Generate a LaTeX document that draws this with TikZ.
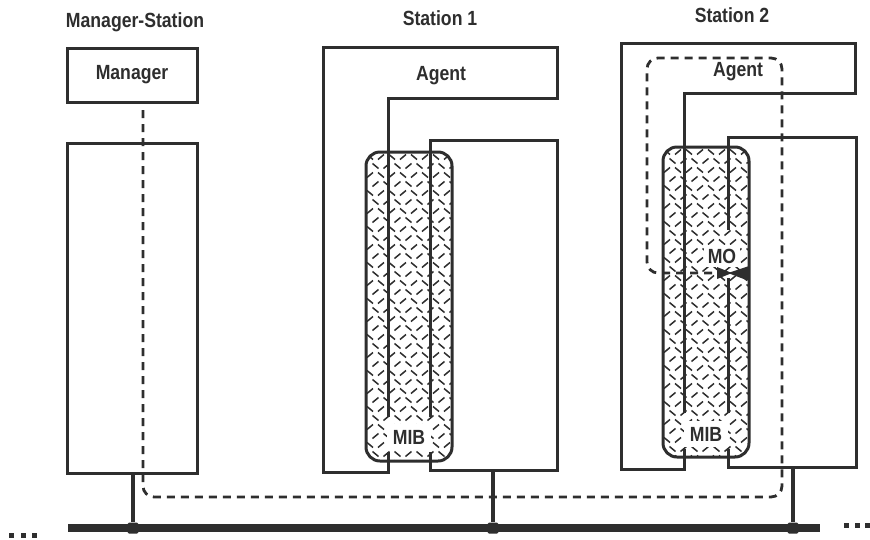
\documentclass[tikz,border=0pt]{standalone}
\usepackage{fontspec}
\setmainfont[FakeStretch=0.86]{Liberation Sans}
\definecolor{ink}{HTML}{2E2E2E}
\newcommand\drawmib[5]{%
  % #1 x1, #2 y1, #3 x2, #4 y2, #5 name
  \fill[white,rounded corners=14pt] (#1,#2) rectangle (#3,#4);
  \begin{scope}
    \clip[rounded corners=14pt] (#1,#2) rectangle (#3,#4);
    \foreach \j in {0,...,34}{%
      \foreach \i in {0,...,8}{%
        \pgfmathsetmacro\hx{#1+4+\i*11+mod(\j,2)*5.5}%
        \pgfmathsetmacro\hy{#2+5+\j*9}%
        \pgfmathtruncatemacro\hpar{mod(floor(\j/2)+\i,2)}%
        \ifnum\hpar=0
          \draw[hatch] (\hx-3,\hy-2.5) -- (\hx+3,\hy+2.5);
        \else
          \draw[hatch] (\hx-3,\hy+2.5) -- (\hx+3,\hy-2.5);
        \fi
      }}
  \end{scope}
  \draw[box,rounded corners=14pt] (#1,#2) rectangle (#3,#4);
  \coordinate (#5) at (#1,#2);
}
\tikzset{
  box/.style={draw=ink,line width=3pt},
  hatch/.style={draw=ink,line width=1.5pt},
  lbl/.style={text=ink,font=\fontsize{20.5}{23}\selectfont\bfseries,inner sep=1pt},
  whitelbl/.style={lbl,fill=white,inner sep=6pt},
  agentpath/.style={draw=ink,line width=2.8pt,dash pattern=on 8pt off 6pt,rounded corners=11pt},
  bus/.style={draw=ink,line width=8pt},
  drop/.style={draw=ink,line width=3.5pt},
  junc/.style={fill=ink,minimum size=11pt,inner sep=0pt,draw=none,rounded corners=1.5pt,rectangle},
  dotn/.style={fill=ink,rectangle,minimum size=5pt,inner sep=0pt}
}
\begin{document}
\begin{tikzpicture}[x=1pt,y=-1pt]
\useasboundingbox (0,0) rectangle (870,539);
\fill[white] (0,0) rectangle (870,539);

% ---------------- Manager station
\node[lbl] (mstlabel) at (135,22) {Manager-Station};
\node[box,minimum width=130pt,minimum height=54pt,inner sep=0pt] (manager) at (132,75) {};
\node[lbl] (managertxt) at (manager.center) {Manager};
\node[box,minimum width=130pt,minimum height=330pt,inner sep=0pt] (mstation) at (132,308) {};
\coordinate (mstart) at (143,110);

% ---------------- Station 1
\node[lbl] (s1label) at (440,18) {Station 1};
\draw[box] (323,47) -- (557,47) -- (557,98) -- (388,98) -- (388,472) -- (323,472) -- cycle;
\draw[box] (430,140) -- (557,140) -- (557,470) -- (430,470) -- cycle;
\node[lbl] (agent1) at (441,76) {Agent};
\drawmib{366}{152}{452}{461}{mib1}
\draw[box] (388,150) -- (388,417);
\draw[box] (430,150) -- (430,417);
\draw[box] (388,452) -- (388,463);
\draw[box] (430,452) -- (430,463);
\node[whitelbl] (mib1txt) at (409,437) {MIB};

% ---------------- Station 2
\node[lbl] (s2label) at (732,15) {Station 2};
\draw[box] (621,43) -- (855,43) -- (855,93) -- (684,93) -- (684,469) -- (621,469) -- cycle;
\draw[box] (728,137) -- (856,137) -- (856,467) -- (728,467) -- cycle;
\drawmib{663}{147}{749}{457}{mib2}
\draw[box] (684,145) -- (684,413);
\draw[box] (728,145) -- (728,230);
\draw[box] (728,278) -- (728,413);
\draw[box] (684,449) -- (684,459);
\draw[box] (728,449) -- (728,459);
\node[whitelbl,inner sep=4pt] (mo) at (722,256) {MO};
\node[whitelbl] (mib2txt) at (706,434) {MIB};
\node[lbl] (agent2) at (738,72) {Agent};

% ---------------- agent boundary (dashed) from manager to MO
\coordinate (moarrow) at (717,273);
\draw[agentpath] (mstart) -- (143,497) -- (782,497) -- (782,58) -- (647,58) -- (647,273) -- (moarrow);
\fill[ink] (moarrow) ++(0,-6) -- ++(15,6) -- ++(-15,6) -- cycle;
\fill[ink] (749,266) -- (728,273) -- (749,281) -- cycle;

% ---------------- bus
\coordinate (busL) at (68,528);
\coordinate (busR) at (820,528);
\draw[bus] (busL) -- (busR);
\node[junc] (j0) at (133,528) {};
\node[junc] (j1) at (493,528) {};
\node[junc] (j2) at (793,528) {};
\draw[drop] (mstation.south -| j0) -- (j0);
\draw[drop] (493,470) -- (j1);
\draw[drop] (793,467) -- (j2);

% ---------------- ellipses
\node[dotn] (dl1) at (11,535) {};
\node[dotn] (dl2) at (23,535) {};
\node[dotn] (dl3) at (34,535) {};
\node[dotn] (dr1) at (846,525) {};
\node[dotn] (dr2) at (857,525) {};
\node[dotn] (dr3) at (867,525) {};
\end{tikzpicture}
\end{document}
